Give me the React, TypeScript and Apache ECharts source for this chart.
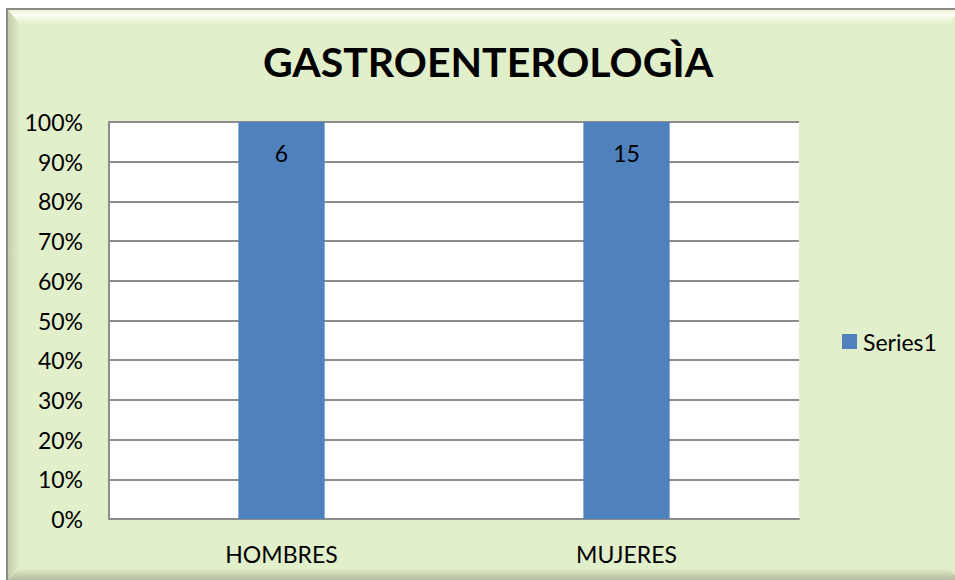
import React, { useEffect, useRef } from "react";
import * as echarts from "echarts";

const titleText = "GASTROENTEROLOGÌA";
const categories = ["HOMBRES", "MUJERES"];
const seriesName = "Series1";
const seriesValues = [6, 15];
const yTicks = { min: 0, max: 100, interval: 10 };

const FONT = "Lato, 'Open Sans', sans-serif";
const BG = "#e2efcb";

export default function App() {
  const ref = useRef<HTMLDivElement>(null);
  useEffect(() => {
    if (!ref.current) return;
    const chart = echarts.init(ref.current, null, { renderer: "svg" });
    const totals = categories.map((_, i) => seriesValues[i]);
    const pct = seriesValues.map((v, i) => (totals[i] ? (v / totals[i]) * 100 : 0));
    chart.setOption({
      animation: false,
      backgroundColor: "#ffffff",
      textStyle: { fontFamily: FONT },
      graphic: [
        { type: "rect", shape: { x: 7, y: 9, width: 960, height: 580 }, style: { fill: BG, stroke: "#8a8a8a", lineWidth: 2 }, z: -10, silent: true },
        {
          type: "polygon",
          shape: { points: [[8, 10], [960, 10], [948, 24], [20, 24]] },
          style: { fill: new echarts.graphic.LinearGradient(0, 0, 0, 1, [
            { offset: 0, color: "#eef6cf" },
            { offset: 0.35, color: "#fdfdf6" },
            { offset: 1, color: BG },
          ]) },
          z: -9, silent: true,
        },
        {
          type: "polygon",
          shape: { points: [[8, 10], [20, 24], [20, 566], [8, 580]] },
          style: { fill: new echarts.graphic.LinearGradient(0, 0, 1, 0, [
            { offset: 0, color: "#c4cfaa" },
            { offset: 1, color: BG },
          ]) },
          z: -9, silent: true,
        },
        {
          type: "polygon",
          shape: { points: [[8, 580], [20, 568], [948, 568], [960, 580]] },
          style: { fill: new echarts.graphic.LinearGradient(0, 0, 0, 1, [
            { offset: 0, color: BG },
            { offset: 1, color: "#b4bca0" },
          ]) },
          z: -9, silent: true,
        },
      ],
      title: {
        text: titleText,
        left: 483,
        textAlign: "center",
        top: 36,
        textStyle: { fontFamily: FONT, fontSize: 41, fontWeight: "bold", color: "#000" },
      },
      legend: {
        data: [seriesName],
        left: 842,
        top: 330,
        padding: 0,
        itemWidth: 15,
        itemHeight: 15,
        itemGap: 5,
        icon: "rect",
        textStyle: { fontFamily: FONT, fontSize: 23, color: "#000", padding: [0, 0, 0, 1] },
      },
      grid: {
        left: 109,
        right: 156,
        top: 122,
        bottom: 61,
        show: true,
        backgroundColor: "#ffffff",
        borderWidth: 0,
      },
      xAxis: {
        type: "category",
        data: categories,
        axisLine: { show: true, lineStyle: { color: "#8c8c8c", width: 2 } },
        axisTick: { show: false },
        axisLabel: { fontFamily: FONT, fontSize: 23, color: "#000", margin: 23 },
      },
      yAxis: {
        type: "value",
        min: yTicks.min,
        max: yTicks.max,
        interval: yTicks.interval,
        axisLine: { show: true, lineStyle: { color: "#8c8c8c", width: 2 } },
        axisTick: { show: false },
        splitLine: { show: true, lineStyle: { color: "#8c8c8c", width: 2 } },
        axisLabel: { fontFamily: FONT, fontSize: 23, color: "#000", margin: 26, formatter: "{value}%" },
      },
      series: [
        {
          name: seriesName,
          type: "bar",
          stack: "total",
          barWidth: "25%",
          data: pct,
          itemStyle: { color: "#4f81bd" },
          label: {
            show: true,
            position: "insideTop",
            distance: 19,
            fontFamily: FONT,
            fontSize: 23,
            color: "#000",
            formatter: (p: any) => String(seriesValues[p.dataIndex]),
          },
        },
      ],
    });
    return () => chart.dispose();
  }, []);
  return (
    <div
      ref={ref}
      style={{ position: "absolute", left: 0, top: 0, width: 955, height: 580 }}
    />
  );
}
